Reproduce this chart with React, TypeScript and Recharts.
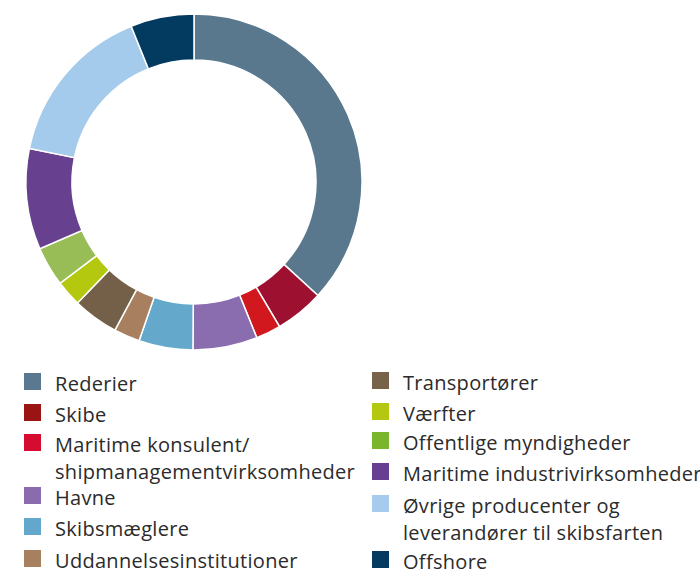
import { PieChart, Pie, Cell, Legend } from "recharts"

const categories = [
  "Rederier",
  "Skibe",
  "Maritime konsulent/ shipmanagementvirksomheder",
  "Havne",
  "Skibsmæglere",
  "Uddannelsesinstitutioner",
  "Transportører",
  "Værfter",
  "Offentlige myndigheder",
  "Maritime industrivirksomheder",
  "Øvrige producenter og leverandører til skibsfarten",
  "Offshore",
]

const shares = [36.8, 4.7, 2.4, 6.2, 5.2, 2.5, 4.4, 2.5, 3.8, 9.7, 15.7, 6.1]

// legend text as printed (line breaks as in the original)
const legendLabels = [
  ["Rederier"],
  ["Skibe"],
  ["Maritime konsulent/", "shipmanagementvirksomheder"],
  ["Havne"],
  ["Skibsmæglere"],
  ["Uddannelsesinstitutioner"],
  ["Transportører"],
  ["Værfter"],
  ["Offentlige myndigheder"],
  ["Maritime industrivirksomheder"],
  ["Øvrige producenter og", "leverandører til skibsfarten"],
  ["Offshore"],
]

const sliceColors = [
  "#5a788d", "#9e1030", "#d0181e", "#8a6daf", "#64a8cc", "#a8805f",
  "#746049", "#b3c80f", "#98bd56", "#67408f", "#a5cbec", "#033a60",
]

const legendColors = [
  "#5b7891", "#9a1414", "#d50b30", "#8a6cae", "#63a8cc", "#a7805f",
  "#76634a", "#b4c811", "#7ab52c", "#673f90", "#a7cbec", "#053a60",
]

const data = categories.map((name, i) => ({ name, value: shares[i] }))

// centre y of each legend square (page coords)
const LEGEND_TOP = 360
const rowY = [381.7, 412.5, 442.5, 495.5, 526.5, 558, 380, 411.5, 440, 471, 503.7, 559]

function ChartLegend() {
  return (
    <div style={{ position: "relative", width: 700, height: 215 }}>
      {legendLabels.map((lines, i) => {
        const sqX = i < 6 ? 24 : 372
        const y = rowY[i] - LEGEND_TOP
        return (
          <div key={i}>
            <div
              style={{
                position: "absolute",
                left: sqX,
                top: y - 8.5,
                width: 17,
                height: 17,
                background: legendColors[i],
              }}
            />
            <div
              style={{
                position: "absolute",
                left: sqX + 31,
                top: y - 11.5,
                whiteSpace: "nowrap",
                fontSize: 20,
                letterSpacing: 0.3,
                lineHeight: "27px",
                color: "#2b2b2b",
              }}
            >
              {lines.map((l, j) => (
                <div key={j}>{l}</div>
              ))}
            </div>
          </div>
        )
      })}
    </div>
  )
}

export default function App() {
  return (
    <div
      style={{
        position: "fixed",
        left: 0,
        top: 0,
        width: 700,
        height: 575,
        overflow: "hidden",
        background: "#fff",
        fontFamily: "'Open Sans', sans-serif",
      }}
    >
      <PieChart width={700} height={575} margin={{ top: 0, right: 0, bottom: 0, left: 0 }}>
        <Pie
          data={data}
          dataKey="value"
          nameKey="name"
          cx={194}
          cy={182}
          innerRadius={122}
          outerRadius={168}
          startAngle={90}
          endAngle={-270}
          stroke="#ffffff"
          strokeWidth={1.5}
          isAnimationActive={false}
        >
          {data.map((d, i) => (
            <Cell key={d.name} fill={sliceColors[i]} />
          ))}
        </Pie>
        <Legend
          content={() => <ChartLegend />}
          wrapperStyle={{ left: 0, top: LEGEND_TOP, width: 700, bottom: "auto" }}
        />
      </PieChart>
    </div>
  )
}
